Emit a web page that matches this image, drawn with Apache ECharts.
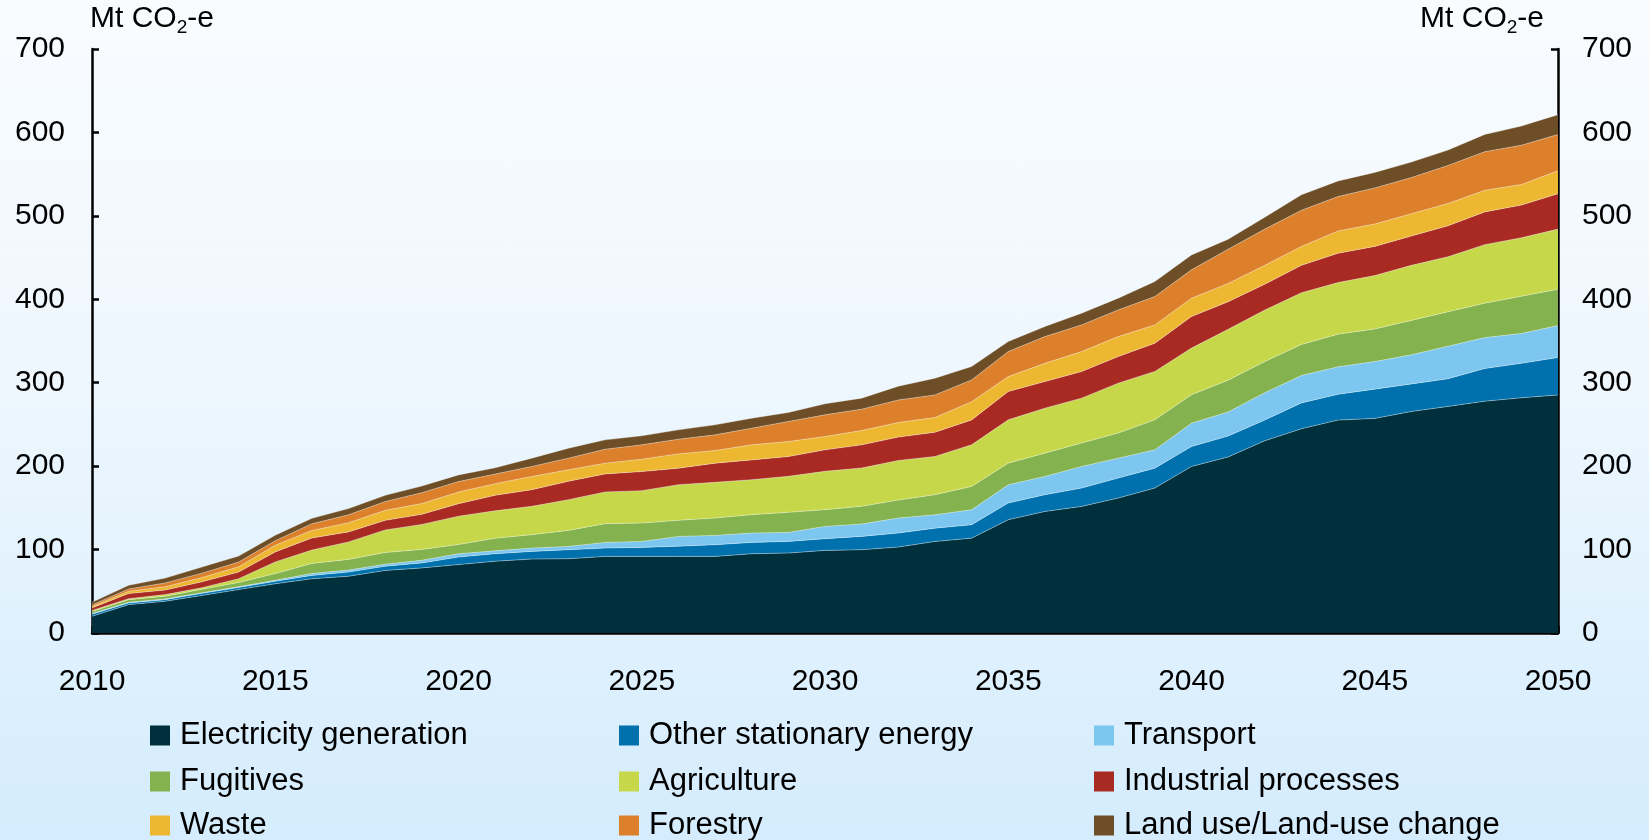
<!DOCTYPE html>
<html>
<head>
<meta charset="utf-8">
<script src="https://cdn.jsdelivr.net/npm/echarts@6/dist/echarts.min.js"></script>
<style>
  html, body { margin: 0; padding: 0; }
  #chart { width: 1649px; height: 840px; background: linear-gradient(to bottom, #f9fcff 0%, #eef7fe 45%, #d4ecfd 100%); }
</style>
</head>
<body>
<div id="chart"></div>
<script>
// ---- Data (Mt CO2-e) ----
const years = [];
for (let y = 2010; y <= 2050; y++) years.push(String(y));

const electricity = [20,34,38,45,52,59,65,68,75,78,82,86,88.6,89,91.8,91.8,91.8,91.8,95,95.8,99,99.8,103,109.7,113.7,135.7,145.7,151.7,161.7,173.7,199.6,211,230.4,244.8,255.2,257.2,265.5,271.6,277.8,281.9,285.3];
const otherStationary = [2.5,2,2,2.5,2.5,3,4,5,5,6,9,9,9.2,10.8,10,10.8,12.2,14,13.6,14,14,16,16.8,16,16,20,20,22,24,23.9,23.9,25,24.8,31,30.9,35.1,33,33.1,39.2,41.3,44.9];
const transport = [0.8,0.8,0.8,0.8,1,1.2,2.4,2.4,2.5,3.2,4,3.5,4,4,6.8,7.2,11.8,11.2,11.2,10.8,14.8,14.8,18,16,18,22,22,25.9,23.9,22,28,29,32.9,32.9,32.9,33,35,39.1,37.1,35.8,38.3];
const fugitives = [2.4,3.2,3.2,4,5,8,12,12.8,14,13,11,15,16,19.2,22.4,21.9,19.2,20.8,22,24,20,21.2,21.5,24,28,25.9,27.9,28,30,35.9,34,38,37.2,37.2,39.2,39.1,41.2,41.2,41.2,44.6,43.4];
const agriculture = [1.2,1.2,2,2,4.5,14,16,21,27,30,34,33,34,36.8,38,38.9,42.8,42.8,42,43.2,46,46,47.5,45.9,49.9,51.9,53.9,53.9,59.9,58,56,61,61.8,61.9,61.9,64,66,66,70.2,70.1,72.2];
const industrial = [3.2,6,5.5,7,8,12,14.5,12,11.5,12,15,18.5,20,22,21.7,22.9,19.7,22.9,23.7,23.7,25.7,27.7,28,29,29.8,33.9,31.9,31.9,31.8,33.8,37.8,33,31,32.9,35.1,35,35.1,37.1,39.2,39.2,42.4];
const waste = [1.6,2.8,4,5.2,6.4,8,9,11,12,13,14,14,15.8,13.8,12.8,14.8,17.2,15.2,18,18,16,17.2,17.5,17.7,21.9,17.9,21.9,23.9,24,22,22,22,22.6,22.7,26.7,26.8,26.8,26.8,25.9,24.7,27.6];
const forestry = [2,2.8,4.5,5.2,5.6,5.5,8,9.5,10.5,13,12.5,11.5,12,14,16.8,17.2,17.6,18.8,20,24,26,25.6,27,27.1,26.1,30,32,32,32,34,34,41,43.4,43.3,41.3,43.3,43.3,45.5,46.3,47,43.4];
const landUse = [3.2,4.3,5.8,7.5,7.2,6.5,6.5,7.5,7.5,8,8,7.5,10,11.9,11.2,10.8,11.2,12,12,10.8,13.2,13.2,16.5,20,16,12.1,12,14,14,18,17.9,12,14.3,18.6,18.6,18.6,18.6,18.5,20.6,23,23.8];

const yTicks = [0,100,200,300,400,500,600,700];

const seriesNames = ['Electricity generation','Other stationary energy','Transport','Fugitives','Agriculture','Industrial processes','Waste','Forestry','Land use/Land-use change'];
const seriesData = [electricity, otherStationary, transport, fugitives, agriculture, industrial, waste, forestry, landUse];
const seriesColors = ['#00303c','#0071ad','#7dc6f0','#83b24e','#c6d84a','#a82a22','#edb731','#dc802c','#6d4e27'];

// ---- Chart ----
const chart = echarts.init(document.getElementById('chart'), null, { renderer: 'canvas' });
const FONT = '"Liberation Sans", Arial, sans-serif';

const series = seriesNames.map((name, i) => ({
  name: name,
  type: 'line',
  stack: 'total',
  data: seriesData[i],
  symbol: 'none',
  smooth: false,
  itemStyle: { color: seriesColors[i] },
  lineStyle: { width: 1, color: 'rgba(255,255,255,0.35)' },
  areaStyle: { color: seriesColors[i], opacity: 1 },
  emphasis: { disabled: true },
  animation: false
}));

// legend laid out as a 3 x 3 grid (one legend component per cell)
const legendCols = [150, 619, 1094];
const legendRows = [720, 766, 810];
const legends = seriesNames.map((name, i) => ({
  orient: 'horizontal',
  icon: 'rect',
  itemWidth: 20,
  itemHeight: 20,
  padding: 0,
  left: legendCols[i % 3],
  top: legendRows[Math.floor(i / 3)],
  selectedMode: false,
  data: [name],
  itemStyle: { borderWidth: 0 },
  textStyle: { fontFamily: FONT, fontSize: 31, color: '#000', lineHeight: 30, padding: [0, 0, 0, 5] }
}));

const yAxisCommon = {
  type: 'value',
  min: 0,
  max: 700,
  interval: 100,
  splitLine: { show: false },
  axisLine: { show: true, lineStyle: { color: '#000', width: 2.5 } },
  axisTick: { show: true, inside: true, length: 7, lineStyle: { color: '#000', width: 2.5 } }
};

chart.setOption({
  backgroundColor: 'transparent',
  animation: false,
  grid: { left: 92, right: 91, top: 49, bottom: 207, containLabel: false },
  legend: legends,
  xAxis: {
    type: 'category',
    data: years,
    boundaryGap: false,
    axisLine: { show: true, lineStyle: { color: '#000', width: 2.5 } },
    axisTick: { show: true, inside: true, length: 7, interval: 4, lineStyle: { color: '#000', width: 2.5 } },
    axisLabel: { interval: 4, margin: 34, fontFamily: FONT, fontSize: 30, color: '#000' },
    splitLine: { show: false }
  },
  yAxis: [
    Object.assign({}, yAxisCommon, {
      position: 'left',
      axisLabel: { margin: 27, fontFamily: FONT, fontSize: 30, color: '#000',
        formatter: v => yTicks.includes(v) ? String(v) : '' }
    }),
    Object.assign({}, yAxisCommon, {
      position: 'right',
      axisLabel: { margin: 24, fontFamily: FONT, fontSize: 30, color: '#000',
        formatter: v => yTicks.includes(v) ? String(v) : '' }
    })
  ],
  graphic: [
    {
      type: 'text', left: 90, top: 4,
      style: {
        text: '{a|Mt CO}{s|2}{a|-e}',
        rich: {
          a: { fontFamily: FONT, fontSize: 30, fill: '#000', lineHeight: 36, verticalAlign: 'middle' },
          s: { fontFamily: FONT, fontSize: 19, fill: '#000', lineHeight: 36, verticalAlign: 'bottom', padding: [12, 0, 0, 0] }
        }
      }
    },
    {
      type: 'text', right: 105, top: 4,
      style: {
        text: '{a|Mt CO}{s|2}{a|-e}',
        rich: {
          a: { fontFamily: FONT, fontSize: 30, fill: '#000', lineHeight: 36, verticalAlign: 'middle' },
          s: { fontFamily: FONT, fontSize: 19, fill: '#000', lineHeight: 36, verticalAlign: 'bottom', padding: [12, 0, 0, 0] }
        }
      }
    }
  ],
  series: series
});
</script>
</body>
</html>
